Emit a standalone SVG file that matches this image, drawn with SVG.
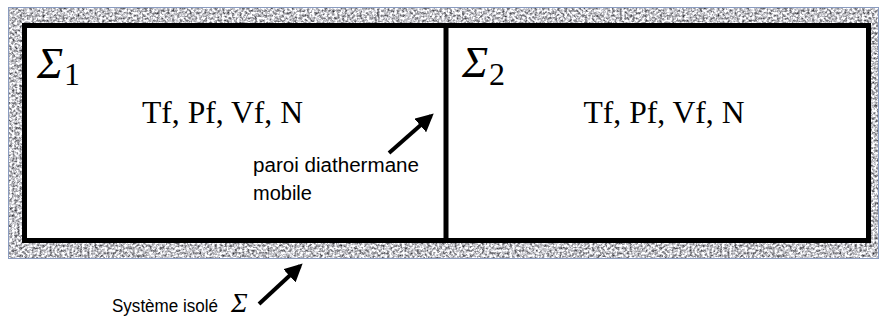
<svg xmlns="http://www.w3.org/2000/svg" width="883" height="320" viewBox="0 0 883 320">
  <style>
    .frame { fill: none; stroke: #000; stroke-width: 5; }
    .sigma { font-family: "Liberation Serif", "DejaVu Serif", serif; font-style: italic; font-size: 44px; fill: #000; }
    .sub { font-family: "Liberation Serif", "DejaVu Serif", serif; font-size: 32px; fill: #000; }
    .vars { font-family: "Liberation Serif", "DejaVu Serif", serif; font-size: 31px; fill: #000; }
    .lbl { font-family: "Liberation Sans", "DejaVu Sans", sans-serif; font-size: 20px; fill: #000; }
    .small { font-family: "Liberation Sans", "DejaVu Sans", sans-serif; font-size: 18px; fill: #000; }
    .arrow { stroke: #000; stroke-width: 4; fill: none; marker-end: url(#head); }
  </style>
  <defs>
    <filter id="granite" x="0" y="0" width="1" height="1" color-interpolation-filters="sRGB">
      <feTurbulence type="fractalNoise" baseFrequency="0.4" numOctaves="3" seed="11" result="n"/>
      <feColorMatrix in="n" type="matrix" values="1.5 0 0 0 0.02  1.5 0 0 0 0.02  1.5 0 0 0 0.04  0 0 0 0 1"/>
    </filter>
    <marker id="head" viewBox="0 0 10 10" refX="8" refY="5" markerWidth="4.5" markerHeight="4.5" orient="auto" markerUnits="strokeWidth">
      <path d="M0,0 L10,5 L0,10 z" fill="#000"/>
    </marker>
  </defs>

  <g id="enclosure">
    <rect x="8" y="7" width="871" height="252" fill="#b0b0b0" filter="url(#granite)"/>
    <rect x="8.5" y="7.5" width="870" height="251" fill="none" stroke="#8a9cc0" stroke-width="1"/>
    <rect x="24.5" y="25.5" width="844" height="215" fill="#fff"/>
    <rect class="frame" x="24.5" y="25.5" width="844" height="215"/>
  </g>

  <g id="wall">
    <line x1="446" y1="25.5" x2="446" y2="240.5" stroke="#000" stroke-width="5"/>
  </g>

  <g id="sigma1">
    <text class="sigma" x="37" y="78">Σ</text>
    <text class="sub" x="64" y="85">1</text>
    <text class="vars" x="222.5" y="123" text-anchor="middle" textLength="161" lengthAdjust="spacingAndGlyphs">Tf, Pf, Vf, N</text>
  </g>

  <g id="sigma2">
    <text class="sigma" x="462" y="77">Σ</text>
    <text class="sub" x="489" y="85">2</text>
    <text class="vars" x="664" y="123" text-anchor="middle" textLength="161" lengthAdjust="spacingAndGlyphs">Tf, Pf, Vf, N</text>
  </g>

  <g id="wall-label">
    <text class="lbl" x="253" y="172" textLength="166" lengthAdjust="spacingAndGlyphs">paroi diathermane</text>
    <text class="lbl" x="253" y="200">mobile</text>
  </g>

  <g id="system-label">
    <text class="small" x="112" y="312" textLength="106" lengthAdjust="spacingAndGlyphs">Système isolé</text>
    <text x="231" y="312" font-family="'Liberation Serif', 'DejaVu Serif', serif" font-style="italic" font-size="28" fill="#000">Σ</text>
  </g>

  <g id="connectors">
    <line class="arrow" x1="389" y1="153" x2="431" y2="116"/>
    <line class="arrow" x1="259" y1="304" x2="300" y2="266"/>
  </g>
</svg>
